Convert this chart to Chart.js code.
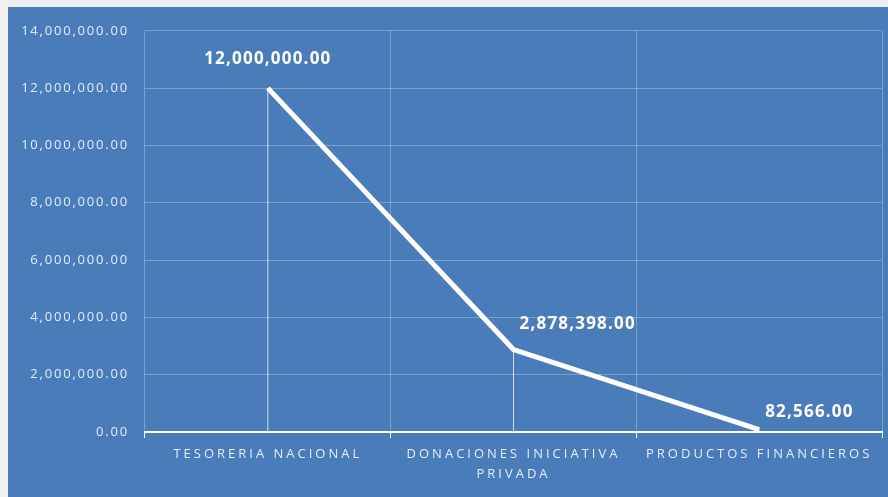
<!DOCTYPE html>
<html>
<head>
<meta charset="utf-8">
<script src="https://cdn.jsdelivr.net/npm/chart.js@4"></script>
<style>
  html, body { margin: 0; padding: 0; background: #efefef; width: 888px; height: 497px; overflow: hidden; }
  #panel { position: absolute; left: 8px; top: 7px; width: 880px; height: 490px; background: #4a7cba; }
</style>
</head>
<body>
<div id="panel"><canvas id="lineChart"></canvas></div>
<script>
// Datos del gráfico
const categorias = [["TESORERIA NACIONAL"], ["DONACIONES INICIATIVA", "PRIVADA"], ["PRODUCTOS FINANCIEROS"]];
const montos = [12000000, 2878398, 82566];
const ticksY = [0, 2000000, 4000000, 6000000, 8000000, 10000000, 12000000, 14000000];

const fmt = v => v.toLocaleString("en-US", { minimumFractionDigits: 2, maximumFractionDigits: 2 });

// Espaciado de letras como en la imagen
const espaciado = {
    id: "espaciado",
    beforeDraw(chart) { chart.ctx.letterSpacing = "1.8px"; }
};

// etiquetas del eje X más espaciadas
function espaciarX(scale) {
    if (scale._espaciado) return;
    const orig = scale.drawLabels.bind(scale);
    scale.drawLabels = function (area) {
        const c = this.ctx;
        const prev = c.letterSpacing;
        c.letterSpacing = "3px";
        orig(area);
        c.letterSpacing = prev;
    };
    scale._espaciado = true;
}

// Líneas verticales desde cada punto hasta el eje + etiquetas
const etiquetas = {
    id: "etiquetas",
    afterDatasetsDraw(chart) {
        const ctx = chart.ctx;
        const meta = chart.getDatasetMeta(0);
        const y0 = chart.scales.y.getPixelForValue(0);
        ctx.save();
        ctx.strokeStyle = "rgba(255,255,255,0.75)";
        ctx.lineWidth = 1;
        meta.data.forEach(p => {
            ctx.beginPath();
            ctx.moveTo(p.x, p.y);
            ctx.lineTo(p.x, y0);
            ctx.stroke();
        });
        ctx.fillStyle = "#ffffff";
        ctx.font = "bold 17px 'Open Sans'";
        ctx.letterSpacing = "1.2px";
        ctx.textBaseline = "middle";
        meta.data.forEach((p, i) => {
            const txt = fmt(montos[i]);
            if (i === 0) {
                ctx.textAlign = "center";
                ctx.fillText(txt, p.x, p.y - 29);
            } else {
                ctx.textAlign = "left";
                ctx.fillText(txt, p.x + 6, p.y - (i === 1 ? 25 : 17));
            }
        });
        ctx.restore();
    }
};

const config = {
    type: "line",
    data: {
        labels: categorias,
        datasets: [{
            data: montos,
            borderColor: "#ffffff",
            borderWidth: 5,
            pointRadius: 0,
            tension: 0,
        }],
    },
    options: {
        responsive: true,
        maintainAspectRatio: false,
        animation: false,
        layout: { padding: { top: 22, right: 6, left: 0, bottom: 0 } },
        plugins: {
            legend: { display: false },
            tooltip: { enabled: false },
        },
        scales: {
            x: {
                offset: true,
                grid: {
                    offset: true,
                    color: "rgba(255,255,255,0.28)",
                    tickColor: "#ffffff",
                    tickLength: 6,
                },
                border: { color: "#ffffff", width: 2 },
                ticks: {
                    color: "#e4edf8",
                    font: { family: "'Open Sans'", size: 13, lineHeight: 1.5 },
                    padding: 7,
                    maxRotation: 0,
                },
                afterFit(scale) { scale.height = 65; },
                afterUpdate: espaciarX,
            },
            y: {
                min: 0,
                max: 14000000,
                afterBuildTicks(scale) { scale.ticks = ticksY.map(v => ({ value: v })); },
                grid: {
                    color: "rgba(255,255,255,0.28)",
                    drawTicks: false,
                },
                border: { display: false },
                ticks: {
                    color: "#e4edf8",
                    font: { family: "'Open Sans'", size: 13 },
                    padding: 16,
                    callback: v => fmt(v),
                },
                afterFit(scale) { scale.width = 137; },
            },
        },
    },
    plugins: [espaciado, etiquetas],
};

const lineChart = new Chart(document.getElementById("lineChart"), config);
</script>
</body>
</html>
